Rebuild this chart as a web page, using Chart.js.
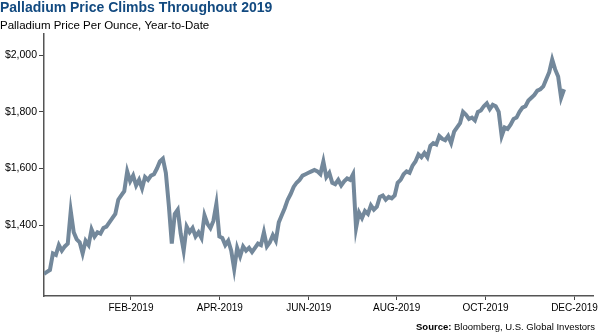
<!DOCTYPE html>
<html>
<head>
<meta charset="utf-8">
<script src="https://cdn.jsdelivr.net/npm/chart.js@4/dist/chart.umd.min.js"></script>
<style>
  html, body { margin: 0; padding: 0; background: #fff; }
  #wrap { width: 600px; height: 335px; position: relative; }
</style>
</head>
<body>
<div id="wrap"><canvas id="chart"></canvas></div>
<script>
// palladium, USD per ounce, one reading every 2 days
const stepDays = 2;
const prices = [
  1228, 1235, 1242, 1300, 1295, 1330, 1310, 1325, 1335, 1450,
  1375, 1350, 1340, 1300, 1345, 1330, 1385, 1360, 1375, 1370,
  1390, 1395, 1410, 1425, 1440, 1490, 1505, 1520, 1590, 1555,
  1575, 1540, 1560, 1530, 1570, 1560, 1575, 1580, 1600, 1625,
  1635, 1585, 1470, 1335, 1440, 1455, 1370, 1310, 1395, 1375,
  1390, 1360, 1375, 1355, 1435, 1405, 1390, 1415, 1475, 1360,
  1355, 1330, 1345, 1310, 1245, 1320, 1290, 1325, 1310, 1320,
  1305, 1320, 1335, 1330, 1375, 1325, 1340, 1365, 1345, 1410,
  1435, 1460, 1490, 1510, 1535, 1550, 1560, 1575, 1580, 1585,
  1590, 1595, 1590, 1580, 1625, 1570, 1585, 1550, 1545, 1560,
  1540, 1555, 1565, 1560, 1580, 1390, 1445, 1425, 1450, 1440,
  1470, 1455, 1465, 1500, 1505, 1490, 1500, 1495, 1505, 1550,
  1560, 1580, 1590, 1585, 1610, 1625, 1650, 1640, 1655, 1640,
  1680, 1690, 1685, 1715, 1705, 1700, 1715, 1690, 1730, 1745,
  1760, 1800, 1790, 1775, 1780, 1770, 1800, 1805, 1820, 1830,
  1810, 1825, 1820, 1800, 1715, 1745, 1740, 1755, 1775, 1780,
  1800, 1815, 1820, 1840, 1850, 1860, 1875, 1880, 1890, 1915,
  1940, 1985, 1950, 1925, 1850, 1880
];

// x ticks (days from first reading) and their labels
const tickDays = [58.5, 118.3, 178.2, 237.3, 297.1, 357];
const tickLabels = ["FEB-2019", "APR-2019", "JUN-2019", "AUG-2019", "OCT-2019", "DEC-2019"];
const priceTicks = [1400, 1600, 1800, 2000];

const FONT = "'Liberation Sans', Arial, sans-serif";

const sourceNote = {
  id: "sourceNote",
  afterDraw(chart) {
    const { ctx } = chart;
    const bold = "Source:";
    const rest = " Bloomberg, U.S. Global Investors";
    ctx.save();
    ctx.fillStyle = "#000";
    ctx.textBaseline = "alphabetic";
    ctx.font = "9.5px " + FONT;
    const restW = ctx.measureText(rest).width;
    ctx.font = "bold 9.5px " + FONT;
    const boldW = ctx.measureText(bold).width;
    const right = 595;
    const y = 330;
    ctx.fillText(bold, right - restW - boldW, y);
    ctx.font = "9.5px " + FONT;
    ctx.fillText(rest, right - restW, y);
    ctx.restore();
  },
};

new Chart("chart", {
  type: "line",
  data: {
    datasets: [
      {
        data: prices.map((p, i) => ({ x: i * stepDays, y: p })),
        borderColor: "#73889b",
        borderWidth: 4,
        pointRadius: 0,
        tension: 0,
        fill: false,
      },
    ],
  },
  options: {
    responsive: true,
    maintainAspectRatio: false,
    animation: false,
    layout: { padding: { left: 0, right: 5, top: 0, bottom: 0 } },
    plugins: {
      legend: { display: false },
      tooltip: { enabled: false },
      title: {
        display: true,
        align: "start",
        text: "Palladium Price Climbs Throughout 2019",
        color: "#124a80",
        font: { family: FONT, size: 14, weight: "bold" },
        padding: { top: 0, bottom: 2 },
      },
      subtitle: {
        display: true,
        align: "start",
        text: "Palladium Price Per Ounce, Year-to-Date",
        color: "#000",
        font: { family: FONT, size: 11.5 },
        padding: { top: 0, bottom: 1.4 },
      },
    },
    scales: {
      x: {
        type: "linear",
        min: 0,
        max: 370,
        afterBuildTicks: (scale) => {
          scale.ticks = tickDays.map((v) => ({ value: v }));
        },
        afterFit: (scale) => {
          scale.height = 39;
        },
        grid: { drawOnChartArea: false, tickLength: 4, color: "#444" },
        border: { color: "#555", width: 1.5 },
        ticks: {
          autoSkip: false,
          maxRotation: 0,
          padding: 2,
          color: "#000",
          font: { family: FONT, size: 10 },
          callback: (v, i) => tickLabels[i],
        },
      },
      y: {
        min: 1150,
        max: 2075,
        afterBuildTicks: (scale) => {
          scale.ticks = priceTicks.map((v) => ({ value: v }));
        },
        afterFit: (scale) => {
          scale.width = 44;
        },
        grid: { drawOnChartArea: false, tickLength: 5, color: "#444" },
        border: { color: "#555", width: 1.5 },
        ticks: {
          padding: 2,
          color: "#000",
          font: { family: FONT, size: 10.5 },
          callback: (v) => "$" + v.toLocaleString("en-US"),
        },
      },
    },
  },
  plugins: [sourceNote],
});
</script>
</body>
</html>
